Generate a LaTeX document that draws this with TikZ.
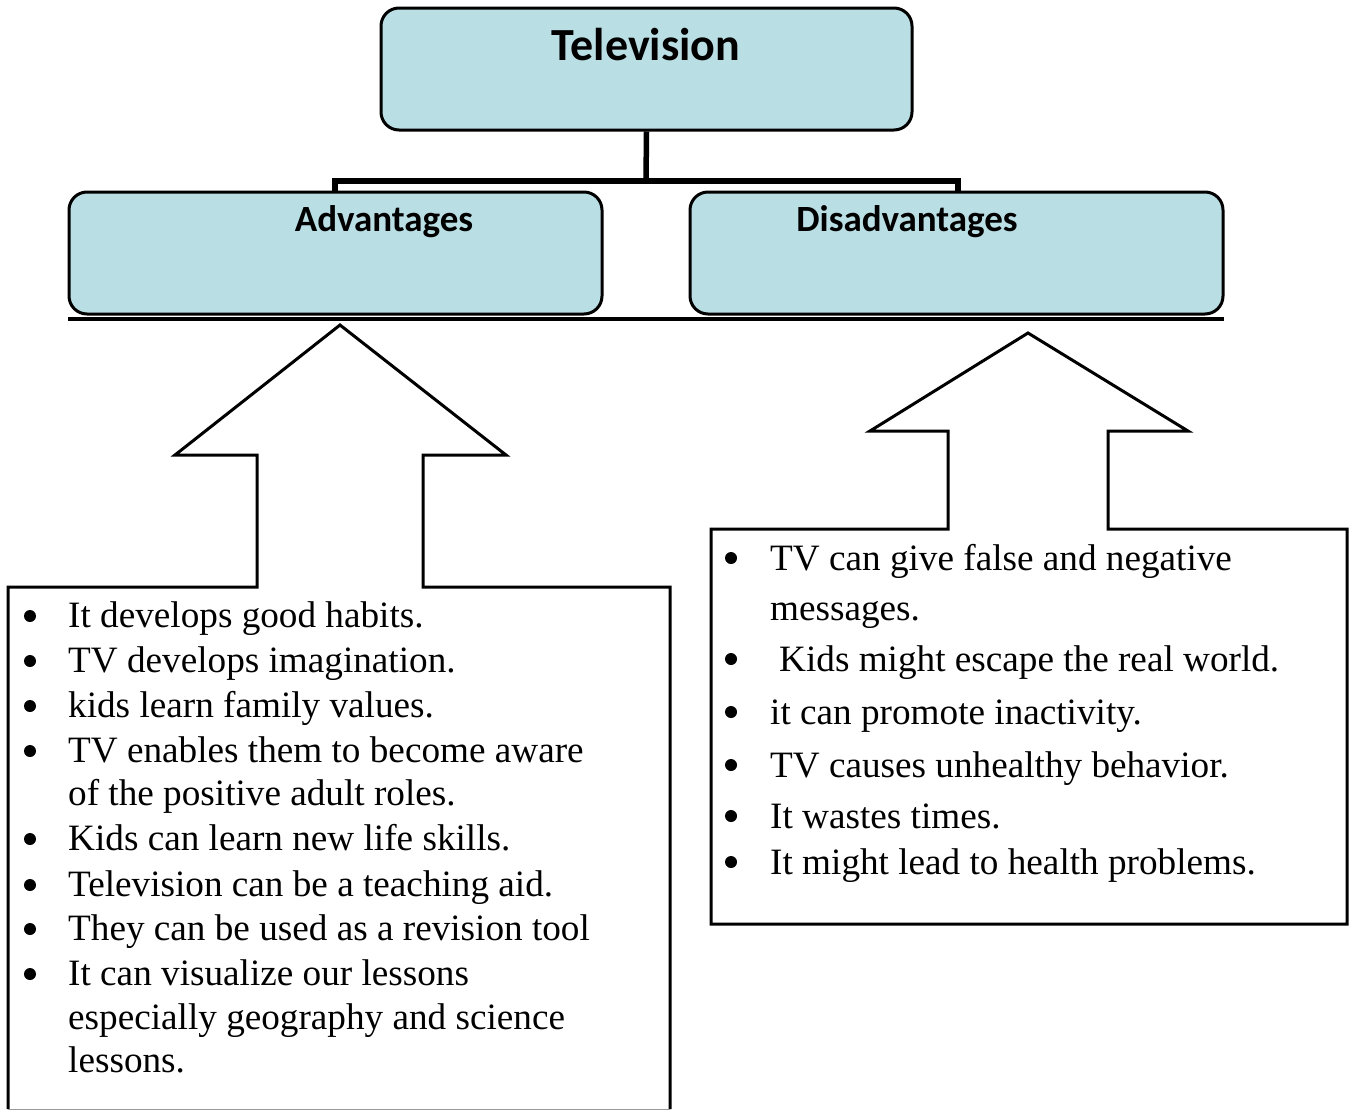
\documentclass[tikz,border=0pt]{standalone}
\usepackage{fontspec}
\setmainfont{Liberation Serif}
\newfontfamily\headfont{Carlito}
\definecolor{boxblue}{RGB}{185,222,227}
\tikzset{
  topbox/.style={draw=black, fill=boxblue, line width=3pt, rounded corners=18pt},
  headtext/.style={font=\headfont\bfseries\fontsize{37}{40}\selectfont, inner sep=0pt},
  linker/.style={line width=5.5pt},
  outline/.style={draw=black, line width=3pt, line join=miter},
  item/.style={anchor=base west, inner sep=0pt, font=\fontsize{37.2}{40}\selectfont},
  dot/.style={circle, fill=black, inner sep=0pt, minimum size=12pt}
}
\begin{document}
\begin{tikzpicture}[x=1pt, y=-1pt]
\useasboundingbox (0,0) rectangle (1354,1111);
\fill[white] (0,0) rectangle (1354,1111);

% top level and the two category boxes
\node[topbox, minimum width=531pt, minimum height=122pt] (tv) at (646.5,69) {};
\node[headtext, font=\headfont\bfseries\fontsize{46}{48}\selectfont] (tvt) at (646,45) {Television};
\node[topbox, minimum width=533pt, minimum height=122pt] (adv) at (335.5,253) {};
\node[headtext] (advt) at (384,222) {Advantages};
\node[topbox, minimum width=533pt, minimum height=122pt] (dis) at (956.5,253) {};
\node[headtext] (dist) at (907,222) {Disadvantages};

% tree connector
\coordinate (fork) at (646,181);
\draw[linker] (tv.south) -- (fork);
\draw[linker, line cap=rect] (335,181) -- (958,181);
\draw[linker] (335,181) -- (335,192);
\draw[linker] (958,181) -- (958,192);

% base line under the category boxes
\coordinate (baseL) at (68,319);
\coordinate (baseR) at (1224,319);
\draw[line width=4.5pt] (baseL) -- (baseR);

% left arrow joined to its list box
\draw[outline] (8,1109) -- (8,587) -- (257,587) -- (257,455) -- (175,455)
  -- (340,325) -- (506,455) -- (423,455) -- (423,587) -- (670,587) -- (670,1109);
\draw[line width=1pt, black!40] (8,1109) -- (670,1109);

% right arrow joined to its list box
\draw[outline] (711,924) -- (711,529) -- (948,529) -- (948,431) -- (870,431)
  -- (1028,333) -- (1188,431) -- (1108,431) -- (1108,529) -- (1347,529) -- (1347,924) -- cycle;

% advantages list
\foreach \n/\y/\t in {
  a1/627/{It develops good habits.},
  a2/672/{TV develops imagination.},
  a3/717/{kids learn family values.},
  a4/762/{TV enables them to become aware},
  a5/805/{of the positive adult roles.},
  a6/850/{Kids can learn new life skills.},
  a7/896/{Television can be a teaching aid.},
  a8/940/{They can be used as a revision tool},
  a9/985/{It can visualize our lessons},
  a10/1029/{especially geography and science},
  a11/1072/{lessons.}}
  \node[item] (\n) at (68,\y) {\t};
\foreach \y in {627,672,717,762,850,896,940,985}
  \node[dot] at (30,\y-11) {};

% disadvantages list
\foreach \n/\x/\y/\t in {
  d1/770/570/{TV can give false and negative},
  d2/770/620/{messages.},
  d3/779/671/{Kids might escape the real world.},
  d4/770/724/{it can promote inactivity.},
  d5/770/777/{TV causes unhealthy behavior.},
  d6/770/828/{It wastes times.},
  d7/770/874/{It might lead to health problems.}}
  \node[item] (\n) at (\x,\y) {\t};
\foreach \y in {570,671,724,777,828,874}
  \node[dot] at (731,\y-12) {};
\end{tikzpicture}
\end{document}
